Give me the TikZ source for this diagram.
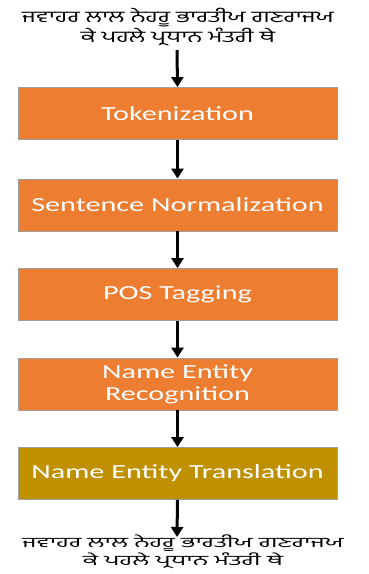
\documentclass[tikz,border=0pt]{standalone}
\usepackage{fontspec}
\usetikzlibrary{arrows.meta}
\newfontfamily\boxfont[FakeStretch=1.51]{Carlito}
\newfontfamily\gurfont[Script=Gurmukhi,FakeStretch=1.55]{Hind Jalandhar}
\newfontfamily\gurfontb[Script=Gurmukhi,FakeStretch=1.8]{Hind Jalandhar}
\definecolor{boxorange}{HTML}{ED7D31}
\definecolor{boxgold}{HTML}{BF9000}
\tikzset{
  stepbox/.style={draw=gray!75, line width=0.8pt, fill=boxorange, minimum width=319pt,
    minimum height=52pt, inner sep=0pt, align=center, text=white,
    font=\boxfont\fontsize{20}{22}\selectfont},
  arr/.style={line width=3pt, -{Triangle[width=12pt,length=10pt]}},
  guru/.style={align=center, inner sep=0pt, font=\gurfont\fontsize{16}{18}\selectfont},
  gurub/.style={align=center, inner sep=0pt, font=\gurfontb\fontsize{14.2}{15.5}\selectfont}
}
\begin{document}
\begin{tikzpicture}[x=1pt,y=-1pt]
\useasboundingbox (0,0) rectangle (368,574);
\node[guru] (top) at (178,27) {ਜਵਾਹਰ ਲਾਲ ਨੇਹਰੂ ਭਾਰਤੀਯ ਗਣਰਾਜਯ\\ਕੇ ਪਹਲੇ ਪ੍ਰਧਾਨ ਮੰਤਰੀ ਥੇ};
\node[stepbox] (tok) at (177.5,113.5) {Tokenization};
\node[stepbox] (sn) at (177.5,205) {Sentence Normalization};
\node[stepbox] (pos) at (177.5,294.5) {POS Tagging};
\node[stepbox] (ner) at (177.5,384) {Name Entity\\Recognition};
\node[stepbox, fill=boxgold] (net) at (177.5,473.5) {Name Entity Translation};
\node[gurub] (bot) at (183,552) {ਜਵਾਹਰ ਲਾਲ ਨੇਹਰੂ ਭਾਰਤੀਯ ਗਣਰਾਜਯ\\ਕੇ ਪਹਲੇ ਪ੍ਰਧਾਨ ਮੰਤਰੀ ਥੇ};
\coordinate (s0) at (177,50);
\coordinate (e0) at (177,537);
\draw[arr] (s0) -- (tok.north);
\draw[arr] (tok.south) -- (sn.north);
\draw[arr] (sn.south) -- (pos.north);
\draw[arr] (pos.south) -- (ner.north);
\draw[arr] (ner.south) -- (net.north);
\draw[arr] (net.south) -- (e0);
\end{tikzpicture}
\end{document}
